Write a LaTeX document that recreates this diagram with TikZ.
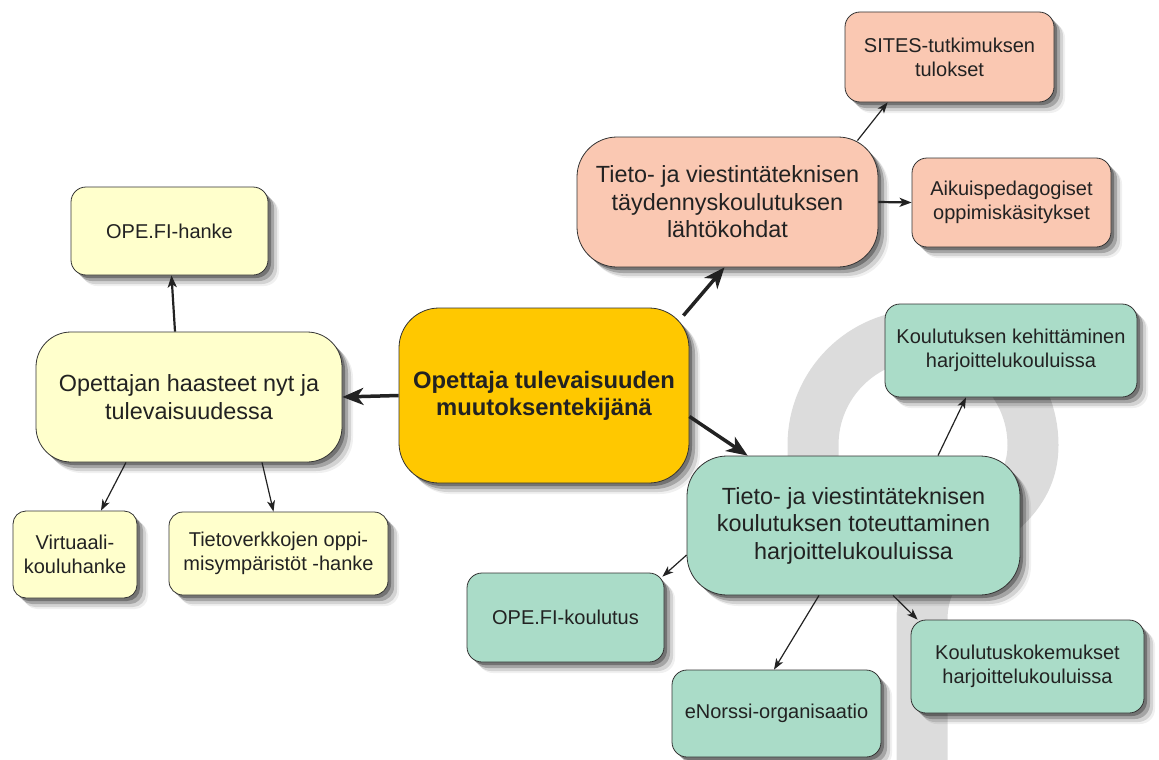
\documentclass[tikz,border=0pt]{standalone}
\usepackage{fontspec}
\setmainfont{Liberation Sans}
\usetikzlibrary{arrows.meta,shadows}
\definecolor{gold}{HTML}{FFC800}
\definecolor{lyellow}{HTML}{FFFFCC}
\definecolor{salmon}{HTML}{FAC8B2}
\definecolor{mint}{HTML}{AADCC8}
\definecolor{qgray}{HTML}{DCDCDC}
\definecolor{txt}{HTML}{222222}
\tikzset{
  shad/.style={
    drop shadow={shadow xshift=3pt,shadow yshift=-3pt,opacity=.3,fill=black},
    drop shadow={shadow xshift=6pt,shadow yshift=-6pt,opacity=.22,fill=black},
    drop shadow={shadow xshift=9pt,shadow yshift=-9pt,opacity=.12,fill=black},
    drop shadow={shadow xshift=11pt,shadow yshift=-11pt,opacity=.06,fill=black}},
  box/.style={draw=black!80,line width=0.8pt,align=center,text=txt,inner sep=0pt,shad},
  bigtxt/.style={font=\fontsize{23.4}{27.5}\selectfont},
  smalltxt/.style={font=\fontsize{20}{24}\selectfont},
  thick arrow/.style={line width=3.5pt,draw=txt,-{Stealth[length=21pt,width=17pt,inset=6pt]}},
  mid arrow/.style={line width=2.2pt,draw=txt,-{Stealth[length=12pt,width=9pt,inset=3pt]}},
  thin arrow/.style={line width=1.2pt,draw=txt,-{Stealth[length=11pt,width=8pt,inset=3pt]}},
  qm/.style={draw=qgray,line width=51pt}
}
\begin{document}
\begin{tikzpicture}[x=1pt,y=-1pt]
\useasboundingbox (0,0) rectangle (1159,760);
\begin{scope}
  \clip (0,0) rectangle (1159,760);
  \draw[qm] (813,475) -- (813,445) arc[start angle=180,end angle=0,radius=110pt]
    .. controls (1033,530) and (922,530) .. (922,620) -- (922,800);
\end{scope}

% central node
\node[box,fill=gold,rounded corners=40pt,minimum width=290pt,minimum height=175pt,
  font=\bfseries\fontsize{23.8}{27}\selectfont] (c) at (544,395.5)
  {Opettaja tulevaisuuden\\muutoksentekijänä};

% left cluster
\node[box,bigtxt,fill=lyellow,rounded corners=35pt,minimum width=306pt,minimum height=130pt]
  (l) at (189,397) {Opettajan haasteet nyt ja\\tulevaisuudessa};
\node[box,smalltxt,fill=lyellow,rounded corners=15pt,minimum width=197pt,minimum height=88pt]
  (opeh) at (169.5,231) {OPE.FI-hanke};
\node[box,smalltxt,fill=lyellow,rounded corners=13pt,minimum width=124pt,minimum height=87pt]
  (virt) at (75,554.5) {Virtuaali-\\kouluhanke};
\node[box,smalltxt,fill=lyellow,rounded corners=14pt,minimum width=219pt,minimum height=83pt]
  (tiet) at (278.5,553.5) {Tietoverkkojen oppi-\\misympäristöt -hanke};

% top right cluster
\node[box,bigtxt,fill=salmon,rounded corners=40pt,minimum width=301pt,minimum height=130pt]
  (tayd) at (727.5,202) {Tieto- ja viestintäteknisen\\täydennyskoulutuksen\\lähtökohdat};
\node[box,smalltxt,fill=salmon,rounded corners=15pt,minimum width=209pt,minimum height=90pt]
  (sites) at (949.5,57) {SITES-tutkimuksen\\tulokset};
\node[box,smalltxt,fill=salmon,rounded corners=15pt,minimum width=199pt,minimum height=89pt]
  (aikui) at (1011.5,202.5) {Aikuispedagogiset\\oppimiskäsitykset};

% bottom right cluster
\node[box,bigtxt,fill=mint,rounded corners=40pt,minimum width=333pt,minimum height=139pt]
  (tot) at (853.5,525.5) {Tieto- ja viestintäteknisen\\koulutuksen toteuttaminen\\harjoittelukouluissa};
\node[box,smalltxt,fill=mint,rounded corners=15pt,minimum width=252pt,minimum height=93pt]
  (keh) at (1011,350.5) {Koulutuksen kehittäminen\\harjoittelukouluissa};
\node[box,smalltxt,fill=mint,rounded corners=15pt,minimum width=197pt,minimum height=89pt]
  (opek) at (565.5,617.5) {OPE.FI-koulutus};
\node[box,smalltxt,fill=mint,rounded corners=15pt,minimum width=209pt,minimum height=87pt]
  (enor) at (776.5,713.5) {eNorssi-organisaatio};
\node[box,smalltxt,fill=mint,rounded corners=15pt,minimum width=233pt,minimum height=93pt]
  (kok) at (1027.5,666.5) {Koulutuskokemukset\\harjoittelukouluissa};

% connectors
\draw[thick arrow] (c.west) -- (l.east);
\draw[thick arrow] ([xshift=-6pt,yshift=-4pt]c.30) -- ([xshift=-3pt]tayd.south);
\draw[thick arrow] ([yshift=-21pt]c.east) -- ([xshift=61pt]tot.north west);

\draw[mid arrow] ([xshift=-14pt]l.north) -- ([xshift=2pt]opeh.south);
\draw[thin arrow] ([xshift=-63pt]l.south) -- ([xshift=26pt]virt.north);
\draw[thin arrow] ([xshift=73pt]l.south) -- ([xshift=-5pt]tiet.north);

\draw[thin arrow] ([xshift=-21pt,yshift=-4pt]tayd.north east) -- ([xshift=43pt]sites.south west);
\draw[mid arrow] (tayd.east) -- (aikui.west);

\draw[thin arrow] ([xshift=84.5pt]tot.north) -- ([xshift=-45pt]keh.south);
\draw[thin arrow] ([yshift=-29.5pt]tot.west) -- ([shift={(-2pt,-4pt)}]opek.north east);
\draw[thin arrow] ([xshift=-34.5pt]tot.south) -- ([xshift=-2.5pt]enor.north);
\draw[thin arrow] ([xshift=39.5pt]tot.south) -- ([xshift=7pt]kok.north west);
\end{tikzpicture}
\end{document}
